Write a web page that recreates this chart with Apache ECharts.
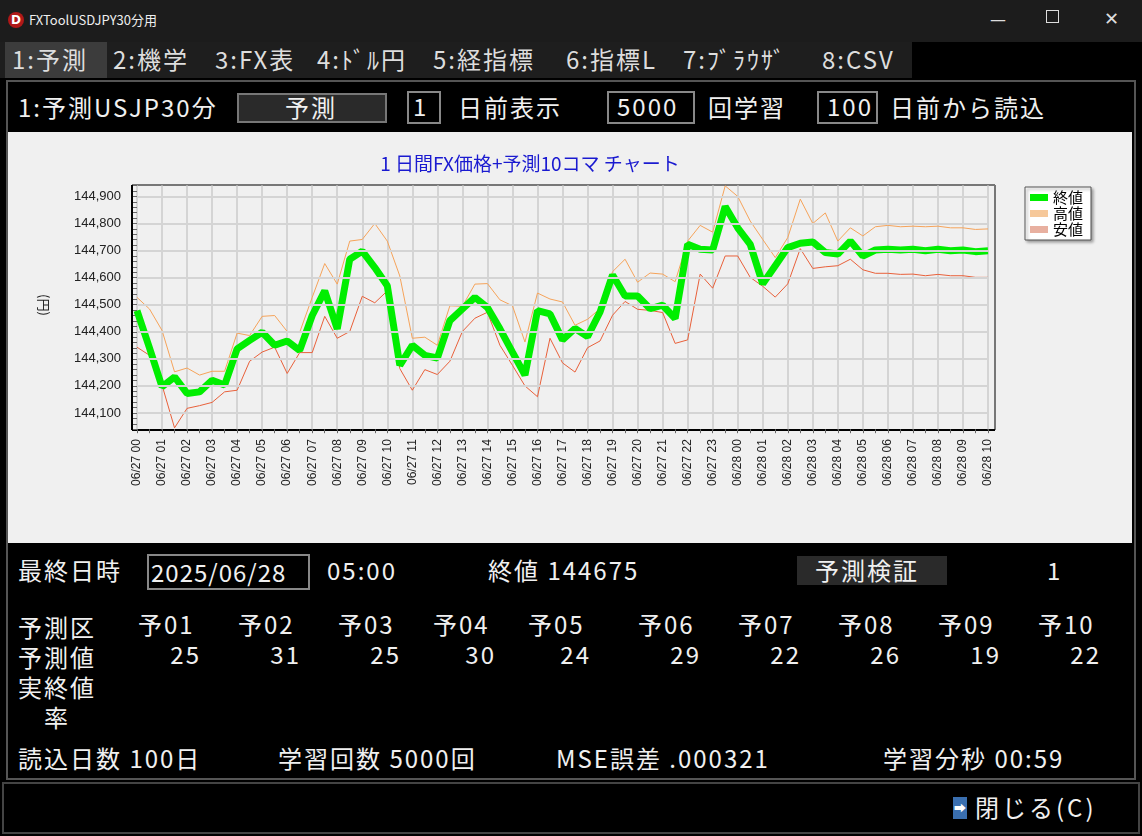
<!DOCTYPE html>
<html><head><meta charset="utf-8">
<script src="https://cdn.jsdelivr.net/npm/echarts@6/dist/echarts.min.js"></script>
<style>
body{margin:0;width:1142px;height:836px;background:#000;overflow:hidden;font-family:"Noto Sans CJK JP",sans-serif;color:#f0f0f0;position:relative}
.a{position:absolute;white-space:pre;line-height:1}
.t{font-size:24px;letter-spacing:2px}
.box{position:absolute;border:2px solid #777;box-sizing:border-box}
</style></head><body>
<div class="a" style="left:0;top:0;width:1142px;height:42px;background:#1c1c1c"></div>
<div class="a" style="left:8px;top:12px;width:16px;height:16px;border-radius:8px;background:#b01818;color:#fff;font:bold 12px 'DejaVu Sans';text-align:center;line-height:16px">D</div>
<div class="a" style="left:29px;top:13px;font-size:13px;color:#eee">FXToolUSDJPY30分用</div>
<div class="a" style="left:990px;top:10px;font:16px 'DejaVu Sans';color:#ddd">—</div>
<div class="a" style="left:1046px;top:10px;width:11px;height:11px;border:1px solid #ddd"></div>
<div class="a" style="left:1104px;top:8px;font:18px 'DejaVu Sans';color:#ddd">✕</div>
<div class="a" style="left:0;top:42px;width:912px;height:36px;background:#1e1e1e"></div>
<div class="a" style="left:5px;top:42px;width:102px;height:36px;background:#3c3c3c"></div>
<div id="tabs"></div>
<div class="box" style="left:6px;top:80px;width:1130px;height:700px;border-color:#555"></div>
<div class="a t" style="left:18px;top:95px">1:予測USJP30分</div>
<div class="box" style="left:237px;top:93px;width:150px;height:30px;background:#2a2a2a"></div>
<div class="a t" style="left:285px;top:95px">予測</div>
<div class="box" style="left:407px;top:91px;width:34px;height:33px;border-color:#888"></div>
<div class="a t" style="left:413px;top:94px">1</div>
<div class="a t" style="left:458px;top:95px">日前表示</div>
<div class="box" style="left:607px;top:91px;width:88px;height:33px;border-color:#888"></div>
<div class="a t" style="left:617px;top:94px">5000</div>
<div class="a t" style="left:708px;top:95px">回学習</div>
<div class="box" style="left:817px;top:91px;width:61px;height:33px;border-color:#888"></div>
<div class="a t" style="left:827px;top:94px">100</div>
<div class="a t" style="left:890px;top:95px">日前から読込</div>
<div id="c" style="position:absolute;left:8px;top:132px;width:1124px;height:411px;background:#f0f0f0"></div>
<div class="a t" style="left:18px;top:558px">最終日時</div>
<div class="box" style="left:147px;top:554px;width:163px;height:36px;border-color:#888"></div>
<div class="a t" style="left:151px;top:560px;letter-spacing:1px">2025/06/28</div>
<div class="a t" style="left:327px;top:558px">05:00</div>
<div class="a t" style="left:488px;top:558px">終値 144675</div>
<div class="a" style="left:797px;top:556px;width:150px;height:29px;background:#2a2a2a"></div>
<div class="a t" style="left:815px;top:558px">予測検証</div>
<div class="a t" style="left:1047px;top:558px">1</div>
<div class="a t" style="left:18px;top:612px;line-height:30px">予測区
予測値
実終値
　率</div>
<div id="cols"></div>
<div class="a t" style="left:18px;top:746px">読込日数 100日</div>
<div class="a t" style="left:278px;top:746px">学習回数 5000回</div>
<div class="a t" style="left:556px;top:746px">MSE誤差 .000321</div>
<div class="a t" style="left:883px;top:746px">学習分秒 00:59</div>
<div class="box" style="left:2px;top:782px;width:1138px;height:52px;border-color:#444"></div>
<div class="a" style="left:953px;top:797px;width:14px;height:22px;background:#3a6fb0;color:#fff;font-size:12px;text-align:center;line-height:22px">➡</div>
<div class="a t" style="left:975px;top:795px;letter-spacing:3px">閉じる(C)</div>
<script>
const hourLabels=["06/27 00","06/27 01","06/27 02","06/27 03","06/27 04","06/27 05","06/27 06","06/27 07","06/27 08","06/27 09","06/27 10","06/27 11","06/27 12","06/27 13","06/27 14","06/27 15","06/27 16","06/27 17","06/27 18","06/27 19","06/27 20","06/27 21","06/27 22","06/27 23","06/28 00","06/28 01","06/28 02","06/28 03","06/28 04","06/28 05","06/28 06","06/28 07","06/28 08","06/28 09","06/28 10"];
const closeVals=[144478,144340,144197,144233,144172,144178,144221,144203,144337,144368,144398,144350,144366,144331,144460,144551,144411,144668,144698,144637,144570,144276,144350,144313,144303,144441,144484,144527,144490,144411,144325,144240,144478,144466,144370,144412,144382,144473,144610,144532,144532,144485,144498,144449,144723,144705,144702,144863,144784,144723,144577,144644,144711,144727,144732,144693,144687,144735,144680,144702,144705,144702,144705,144699,144705,144699,144702,144696,144699];
const highVals=[144527,144484,144405,144252,144266,144240,144254,144254,144395,144386,144457,144460,144401,144398,144527,144652,144576,144735,144741,144800,144735,144606,144376,144380,144350,144496,144494,144576,144578,144518,144496,144362,144543,144521,144510,144424,144446,144485,144622,144668,144583,144617,144613,144585,144735,144793,144768,144939,144900,144809,144741,144674,144748,144890,144800,144839,144735,144784,144754,144788,144793,144788,144790,144788,144790,144784,144784,144778,144780];
const lowVals=[144343,144313,144203,144045,144117,144127,144139,144178,144184,144291,144325,144343,144246,144323,144323,144457,144376,144401,144531,144507,144551,144264,144184,144260,144242,144291,144401,144450,144472,144350,144276,144200,144160,144376,144285,144251,144341,144366,144461,144512,144483,144479,144471,144357,144370,144613,144561,144680,144680,144601,144568,144528,144577,144707,144634,144640,144644,144668,144629,144616,144616,144612,144613,144607,144612,144607,144607,144601,144601];
const yTicks=[144100,144200,144300,144400,144500,144600,144700,144800,144900];
const predNames=["予01","予02","予03","予04","予05","予06","予07","予08","予09","予10"];
const predVals=[25,31,25,30,24,29,22,26,19,22];
const predX=[138,238,338,433,528,638,738,838,938,1038];
const tabNames=["1:予測","2:機学","3:FX表","4:ﾄﾞﾙ円","5:経指標","6:指標L","7:ﾌﾞﾗｳｻﾞ","8:CSV"];
const tabX=[12,113,215,317,433,566,683,822];

let h='';
predNames.forEach((n,i)=>{h+=`<div class="a t" style="left:${predX[i]}px;top:612px">${n}</div><div class="a t" style="left:${predX[i]-40}px;width:103px;text-align:right;top:642px">${predVals[i]}</div>`;});
document.getElementById('cols').innerHTML=h;
let tb='';
tabNames.forEach((n,i)=>{tb+=`<div class="a t" style="left:${tabX[i]}px;top:47px;color:#ddd">${n}</div>`;});
document.getElementById('tabs').innerHTML=tb;

const cats=[];hourLabels.forEach((l,i)=>{cats.push(l);if(i<hourLabels.length-1)cats.push(l+':30');});
const ch=echarts.init(document.getElementById('c'));
const fnt='"Liberation Sans",Arial,sans-serif';
ch.setOption({
 animation:false,
 title:{text:'1 日間FX価格+予測10コマ チャート',left:517,textAlign:'center',top:17,textStyle:{color:'#1a1ad0',fontSize:19,fontWeight:'normal',fontFamily:'"Noto Sans CJK JP"'}},
 legend:{orient:'vertical',left:1017,top:55,width:71,padding:[3,8,3,5],itemGap:1,itemWidth:18,itemHeight:7,backgroundColor:'#fff',borderColor:'#555',borderWidth:1,shadowColor:'rgba(0,0,0,0.4)',shadowBlur:3,shadowOffsetX:2,shadowOffsetY:2,textStyle:{fontSize:15,color:'#000',fontFamily:'"Noto Sans CJK JP"'},
  data:[{name:'終値',icon:'rect'},{name:'高値',icon:'rect',itemStyle:{color:'#f6c89a'}},{name:'安値',icon:'rect',itemStyle:{color:'#e8b0a0'}}]},
 grid:{left:129,right:144,top:53.6,bottom:113.8},
 xAxis:{type:'category',data:cats,boundaryGap:false,axisLine:{show:false},
  axisTick:{show:true,interval:0,length:4,lineStyle:{color:'#666'}},
  axisLabel:{interval:1,rotate:90,margin:10,fontSize:12,color:'#222',fontFamily:fnt},
  splitLine:{show:true,interval:1,lineStyle:{color:'#d4d4d4',width:2}}},
 yAxis:{type:'value',min:144040,max:144940,interval:20,axisLine:{show:false},splitLine:{show:false},
  axisTick:{show:true,length:4,lineStyle:{color:'#666'}},
  axisLabel:{margin:16,fontSize:13,color:'#222',fontFamily:fnt,formatter:v=>yTicks.includes(v)?v.toLocaleString('en-US'):''}},
 graphic:[
  {type:'line',shape:{x1:124,y1:53,x2:987,y2:53},style:{stroke:'#777',lineWidth:2}},
  {type:'line',shape:{x1:987,y1:53,x2:987,y2:298},style:{stroke:'#777',lineWidth:2}},
  {type:'line',shape:{x1:124,y1:53,x2:124,y2:298},style:{stroke:'#000',lineWidth:2}},
  {type:'line',shape:{x1:124,y1:298,x2:987,y2:298},style:{stroke:'#000',lineWidth:2}},
  {type:'text',x:36,y:173,rotation:-Math.PI/2,style:{text:'(円)',fontSize:13,fill:'#222',fontFamily:'"Noto Sans CJK JP"',align:'center',verticalAlign:'middle'}}
 ],
 series:[
  {type:'line',data:[],silent:true,z:0,markLine:{silent:true,symbol:'none',label:{show:false},lineStyle:{color:'#d4d4d4',width:2,type:'solid'},data:yTicks.map(v=>({yAxis:v}))}},
  {name:'高値',type:'line',data:highVals,symbol:'none',lineStyle:{color:'#f5a35a',width:1},itemStyle:{color:'#f6c89a'},z:3},
  {name:'安値',type:'line',data:lowVals,symbol:'none',lineStyle:{color:'#e8603a',width:1},itemStyle:{color:'#e8b0a0'},z:3},
  {name:'終値',type:'line',data:closeVals,symbol:'none',lineStyle:{color:'#00ee00',width:7},itemStyle:{color:'#00ee00'},z:4}
 ]
});
</script></body></html>
